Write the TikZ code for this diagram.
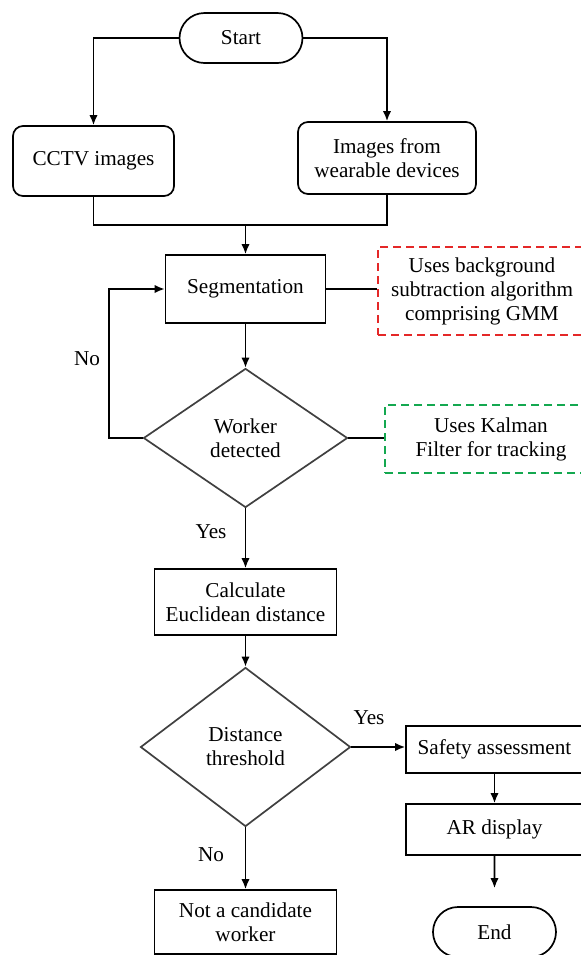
\documentclass[tikz,border=0pt]{standalone}
\usepackage{fontspec}
\setmainfont{Liberation Serif}
\usetikzlibrary{arrows.meta,shapes.geometric,shapes.misc}
\definecolor{notered}{RGB}{228,40,40}
\definecolor{notegreen}{RGB}{20,168,80}
\begin{document}
\begin{tikzpicture}[x=0.5pt, y=-0.5pt,
    font=\fontsize{10.6}{12}\selectfont,
    every path/.style={line width=0.85pt},
    >={Latex[length=5pt,width=4.2pt]},
    terminal/.style={rounded rectangle, draw, minimum width=61.5pt, minimum height=25pt, inner sep=0pt},
    source/.style={rectangle, rounded corners=5pt, draw, align=center, inner sep=0pt},
    process/.style={rectangle, draw, align=center, inner sep=0pt},
    decision/.style={diamond, draw=black!75, align=center, inner sep=0pt},
    note/.style={rectangle, dashed, dash pattern=on 4pt off 2.5pt, align=center, inner sep=0pt}]
    \useasboundingbox (0,0) rectangle (581,955);

    \node[terminal] (start) at (241, 38) {Start};
    \node[source, minimum width=80.5pt, minimum height=35pt] (cctv) at (93.5, 161) {CCTV images};
    \node[source, minimum width=89pt, minimum height=36pt] (wear) at (387, 158) {Images from\\wearable devices};
    \coordinate (join) at (245.5, 225);
    \node[process, minimum width=80pt, minimum height=34pt] (seg) at (245.5, 289) {Segmentation};
    \node[note, draw=notered, minimum width=104pt, minimum height=44pt] (segnote) at (482, 291) {Uses background\\subtraction algorithm\\comprising GMM};

    \node[decision, minimum width=102pt, minimum height=69.5pt] (det) at (245.5, 438) {Worker\\detected};
    \node[note, draw=notegreen, minimum width=106pt, minimum height=34pt] (kalman) at (491, 439) {Uses Kalman\\Filter for tracking};
    \node[process, minimum width=91pt, minimum height=33pt] (calc) at (245.5, 602) {Calculate\\Euclidean distance};

    \node[decision, minimum width=105pt, minimum height=79.5pt] (thr) at (245.5, 747) {Distance\\threshold};
    \node[process, minimum width=88.5pt, minimum height=23.5pt] (safe) at (494.5, 749.5) {Safety assessment};
    \node[process, minimum width=88.5pt, minimum height=25.5pt] (ar) at (494.5, 829.5) {AR display};
    \node[terminal] (end) at (494.5, 932) {End};
    \node[process, minimum width=91pt, minimum height=32pt] (notc) at (245.5, 922) {Not a candidate\\worker};

    \node (no1) at (87, 359) {No};
    \node (yes1) at (211, 532) {Yes};
    \node (yes2) at (369, 718) {Yes};
    \node (no2) at (211, 855) {No};

    \draw[->] (start.west) -| (cctv.north);
    \draw[->] (start.east) -| (wear.north);
    \draw (cctv.south) |- (join) -| (wear.south);
    \draw[->] (join) -- (seg);
    \draw (seg.east) -- (segnote.west |- seg.east);
    \draw[->] (seg) -- (det);
    \draw[->] (det.west) -- ++(-34, 0) |- (seg.west);
    \draw (det.east) -- (kalman.west |- det.east);
    \draw[->] (det) -- (calc);
    \draw[->] (calc) -- (thr);
    \draw[->] (thr.east) -- (thr.east -| safe.west);
    \draw[->] (safe) -- (ar);
    \draw[->, shorten >=9pt] (ar) -- (end);
    \draw[->] (thr) -- (notc);
\end{tikzpicture}
\end{document}
